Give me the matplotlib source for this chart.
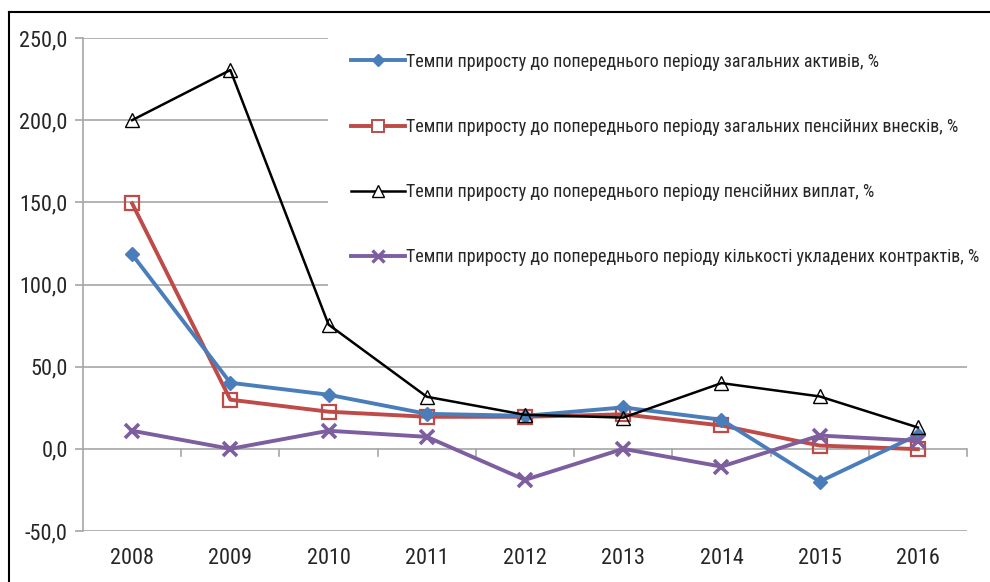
import numpy as np
import matplotlib.pyplot as plt
from matplotlib.lines import Line2D

plt.rcParams['font.family'] = ['Liberation Sans Narrow', 'Roboto Condensed', 'PT Sans Narrow',
                               'Archivo Narrow', 'Liberation Sans', 'DejaVu Sans']

years = ['2008', '2009', '2010', '2011', '2012', '2013', '2014', '2015', '2016']

assets = [118.3, 40.2, 32.9, 21.3, 20.1, 25.2, 17.7, -19.9, 8.5]
contributions = [149.4, 29.9, 22.6, 19.5, 19.5, 21.0, 14.2, 2.0, -0.2]
payments = [200.0, 230.5, 75.6, 31.7, 20.7, 19.0, 40.0, 31.9, 13.0]
contracts = [11.0, 0.0, 11.0, 7.3, -18.9, 0.0, -10.8, 8.1, 4.9]

labels = [
    'Темпи приросту до попереднього періоду загальних активів, %',
    'Темпи приросту до попереднього періоду загальних пенсійних внесків, %',
    'Темпи приросту до попереднього періоду пенсійних виплат, %',
    'Темпи приросту до попереднього періоду кількості укладених контрактів, %',
]

fig = plt.figure(figsize=(9.9, 5.82), dpi=100)
ax = fig.add_axes([83 / 990, 1 - 531 / 582, 884 / 990, (531 - 38) / 582])

x = np.arange(len(years))
grid_c = '#a6a6a6'

ax.set_xlim(-0.5, len(years) - 0.5)
ax.set_ylim(-50, 250)
ax.set_yticks(np.arange(-50, 251, 50))
ax.set_yticklabels([f'{v:.1f}'.replace('.', ',') for v in np.arange(-50, 251, 50)])
for v in np.arange(-50, 251, 50):
    ax.axhline(v, color=grid_c, lw=1.2, zorder=0)

# category axis drawn at zero with tick marks between categories
for b in np.arange(0.5, len(years), 1.0):
    ax.plot([b, b], [0, -4.5], color=grid_c, lw=1.2, zorder=0, clip_on=False)

for s in ['top', 'right', 'bottom']:
    ax.spines[s].set_visible(False)
ax.spines['left'].set_color(grid_c)
ax.spines['left'].set_linewidth(1.2)
ax.tick_params(axis='y', length=6, color=grid_c, width=1.2, labelsize=16, pad=5, labelcolor='#262626')
ax.tick_params(axis='x', length=0, labelsize=16, pad=12, labelcolor='#262626')
ax.set_xticks(x)
ax.set_xticklabels(years)

ax.plot(x, assets, color='#4a7ebb', lw=2.8, marker='D', ms=7, zorder=4)
ax.plot(x, contributions, color='#be4b48', lw=2.8, marker='s', ms=10,
        mfc='none', mec='#be4b48', mew=1.6, zorder=3)
ax.plot(x, payments, color='black', lw=1.8, marker='^', ms=10,
        mfc='none', mec='black', mew=1.0, zorder=5)
ax.plot(x, contracts, color='#7d5fa0', lw=2.8, marker='x', ms=10, mew=2.6, zorder=4)

handles = [
    Line2D([], [], color='#4a7ebb', lw=2.8, marker='D', ms=6),
    Line2D([], [], color='#be4b48', lw=2.8, marker='s', ms=9, mfc='white', mec='#be4b48', mew=1.4),
    Line2D([], [], color='black', lw=1.8, marker='^', ms=9, mfc='white', mec='black', mew=1.0),
    Line2D([], [], color='#7d5fa0', lw=2.8, marker='x', ms=9, mew=2.4),
]
leg = ax.legend(handles, labels, loc='upper left', bbox_to_anchor=(328 / 990, 1 - 30 / 582),
                bbox_transform=fig.transFigure, frameon=True, fontsize=13,
                labelspacing=2.62, handlelength=3.0, handletextpad=0.05,
                borderpad=1.25, borderaxespad=0)
leg.get_frame().set_facecolor('white')
leg.get_frame().set_edgecolor('none')
leg.get_frame().set_alpha(1)
leg.set_zorder(10)
for t in leg.get_texts():
    t.set_color('#262626')

# outer frame (top and left edges visible)
fig.add_artist(Line2D([9 / 990, 9 / 990], [0, 1 - 12 / 582], color='black', lw=1.5))
fig.add_artist(Line2D([9 / 990, 1], [1 - 12 / 582, 1 - 12 / 582], color='black', lw=1.5))

fig.savefig('out.png', dpi=100)
